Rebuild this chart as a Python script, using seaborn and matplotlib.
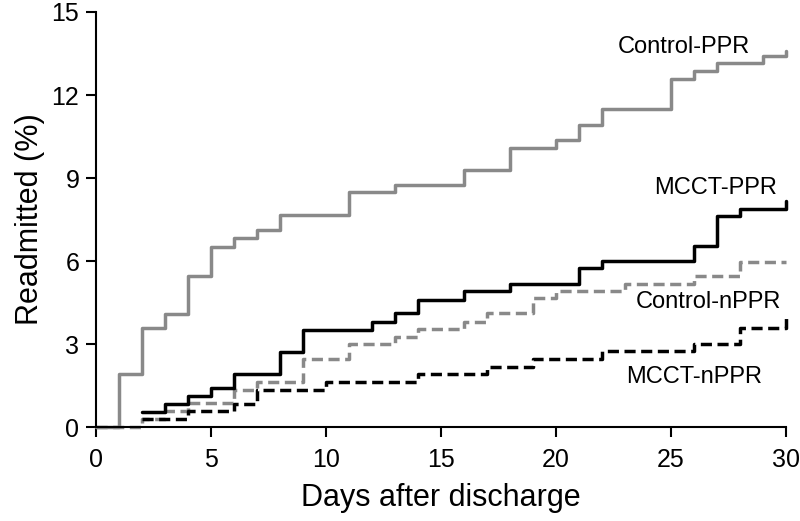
import matplotlib
matplotlib.use("Agg")
import matplotlib.pyplot as plt
import seaborn as sns
import pandas as pd

# Data (days, readmitted %)
ctrl_ppr_days = [0, 1, 2, 3, 4, 5, 6, 7, 8, 11, 13, 16, 18, 20, 21, 22, 25, 26, 27, 29, 30]
ctrl_ppr_vals = [0, 1.92, 3.57, 4.08, 5.46, 6.52, 6.83, 7.12, 7.65, 8.50, 8.75, 9.29, 10.1, 10.37, 10.9, 11.48, 12.57, 12.87, 13.14, 13.41, 13.6]

mcct_ppr_days = [2, 3, 4, 5, 6, 8, 9, 12, 13, 14, 16, 18, 21, 22, 26, 27, 28, 30]
mcct_ppr_vals = [0.55, 0.85, 1.12, 1.40, 1.92, 2.72, 3.53, 3.81, 4.11, 4.61, 4.92, 5.19, 5.74, 6.0, 6.54, 7.63, 7.90, 8.18]

ctrl_nppr_days = [0, 2, 3, 4, 6, 7, 9, 11, 13, 14, 16, 17, 19, 20, 23, 26, 28, 30]
ctrl_nppr_vals = [0, 0.29, 0.58, 0.89, 1.36, 1.64, 2.45, 3.0, 3.26, 3.54, 3.81, 4.11, 4.65, 4.92, 5.19, 5.46, 5.98, 5.98]

mcct_nppr_days = [2, 4, 6, 7, 10, 14, 17, 19, 22, 26, 28, 30]
mcct_nppr_vals = [0.29, 0.58, 0.85, 1.36, 1.64, 1.92, 2.18, 2.48, 2.75, 3.02, 3.57, 4.05]

labels = ["Control-PPR", "MCCT-PPR", "Control-nPPR", "MCCT-nPPR"]
x_ticks = [0, 5, 10, 15, 20, 25, 30]
y_ticks = [0, 3, 6, 9, 12, 15]

sns.set_style("ticks")
plt.rcParams["font.family"] = ["Liberation Sans", "DejaVu Sans"]
plt.rcParams["text.color"] = "black"
plt.rcParams["axes.labelcolor"] = "black"
plt.rcParams["xtick.color"] = "black"
plt.rcParams["ytick.color"] = "black"

fig = plt.figure(figsize=(8, 5.21), dpi=100)
ax = fig.add_axes([0.12, 0.18, 0.8625, 0.797])

GRAY = "#898989"
series = [
    (ctrl_ppr_days, ctrl_ppr_vals, GRAY, "-"),
    (ctrl_nppr_days, ctrl_nppr_vals, GRAY, (0, (3.2, 1.6))),
    (mcct_nppr_days, mcct_nppr_vals, "black", (0, (3.2, 1.6))),
    (mcct_ppr_days, mcct_ppr_vals, "black", "-"),
]
for d, v, c, ls in series:
    df = pd.DataFrame({"day": d, "val": v})
    sns.lineplot(data=df, x="day", y="val", ax=ax, color=c, linestyle=ls,
                 linewidth=2.5, drawstyle="steps-post", estimator=None,
                 sort=True, clip_on=False)

ax.set_xlim(0, 30)
ax.set_ylim(0, 15)
ax.set_xticks(x_ticks)
ax.set_yticks(y_ticks)
ax.tick_params(axis="both", labelsize=18, length=7, width=1.5, colors="black",
               direction="out")
ax.tick_params(axis="x", pad=8)
ax.tick_params(axis="y", pad=5)
for s in ["left", "bottom"]:
    ax.spines[s].set_linewidth(1.5)
    ax.spines[s].set_color("black")
sns.despine(ax=ax)
ax.set_xlabel("Days after discharge", fontsize=22, labelpad=8)
ax.set_ylabel("Readmitted (%)", fontsize=22, labelpad=5)

ax.text(28.43, 13.73, "Control-PPR", fontsize=17, ha="right", va="center")
ax.text(29.6, 8.63, "MCCT-PPR", fontsize=17, ha="right", va="center")
ax.text(29.8, 4.52, "Control-nPPR", fontsize=17, ha="right", va="center")
ax.text(28.96, 1.81, "MCCT-nPPR", fontsize=17, ha="right", va="center")

fig.savefig("out.png", dpi=100)
